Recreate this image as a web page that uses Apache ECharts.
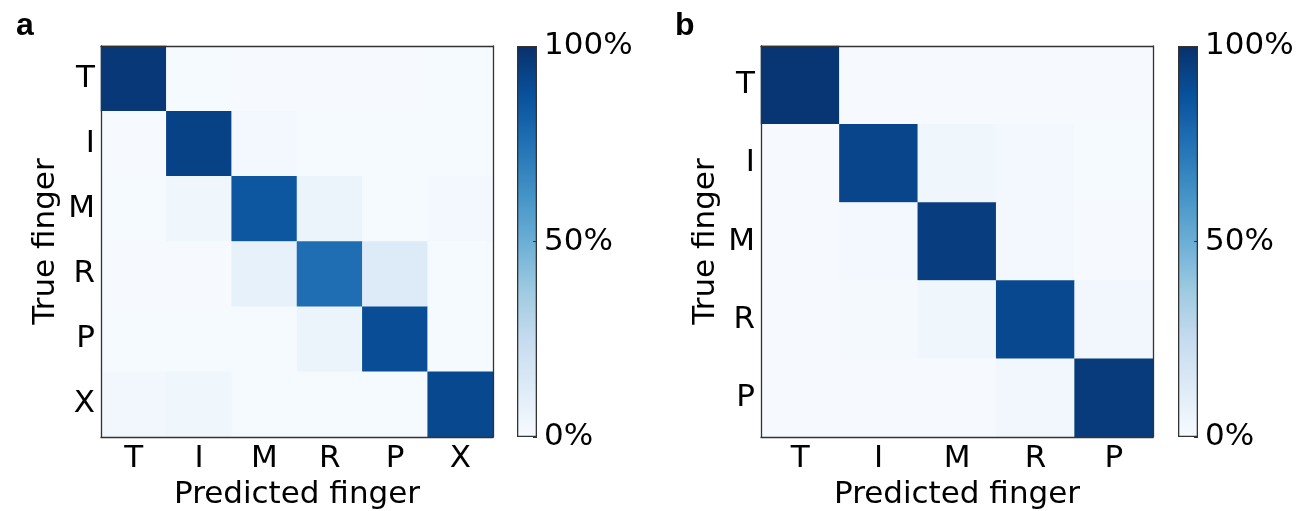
<!DOCTYPE html>
<html>
<head>
<meta charset="utf-8">
<script src="https://cdn.jsdelivr.net/npm/echarts@6/dist/echarts.min.js"></script>
<style>
  html, body { margin: 0; padding: 0; background: #fff; }
  #main { width: 1309px; height: 511px; }
</style>
</head>
<body>
<div id="main"></div>
<script>
// panel a: 6 classes, panel b: 5 classes (rows = true, cols = predicted, in %)
const fingersA = ['T', 'I', 'M', 'R', 'P', 'X'];
const fingersB = ['T', 'I', 'M', 'R', 'P'];

const matrixA = [
  [97, 1, 0.5, 0.5, 0.5, 1],
  [0.5, 93, 2, 1, 1, 1],
  [1, 4, 85, 6, 1, 2],
  [0.5, 0.5, 8, 76, 13, 1],
  [1, 1, 1, 6, 89, 1],
  [3, 4, 1, 1, 1, 91]
];

const matrixB = [
  [98, 0.5, 0.5, 0.5, 0.5],
  [0.5, 92, 4, 2, 1],
  [0.5, 2, 95, 2, 0.5],
  [0.5, 1.5, 4, 91, 3],
  [0.5, 0.5, 0.5, 3, 96]
];

const colorTicks = [0, 50, 100];

// matplotlib "Blues"
const blues = ['#f7fbff', '#deebf7', '#c6dbef', '#9ecae1', '#6baed6',
  '#4292c6', '#2171b5', '#08519c', '#08306b'];

function toCells (m) {
  const out = [];
  m.forEach((row, i) => row.forEach((v, j) => out.push([j, i, v])));
  return out;
}

const FONT = 'DejaVu Sans';
const txt = { color: '#000', fontFamily: FONT, fontSize: 31 };

const gradient = new echarts.graphic.LinearGradient(0, 1, 0, 0,
  blues.map((c, i) => ({ offset: i / (blues.length - 1), color: c })));

const frameLine = { show: true, lineStyle: { color: '#333', width: 1.3 } };

function heatX (data, gridIndex) {
  return {
    type: 'category', data: data, gridIndex: gridIndex, position: 'bottom',
    axisLine: frameLine, axisTick: { show: false }, splitLine: { show: false },
    axisLabel: Object.assign({ margin: 6 }, txt),
    name: 'Predicted finger', nameLocation: 'middle', nameGap: 42,
    nameTextStyle: txt, z: 10
  };
}
function heatY (data, gridIndex) {
  return {
    type: 'category', data: data, gridIndex: gridIndex, inverse: true,
    axisLine: frameLine, axisTick: { show: false }, splitLine: { show: false },
    axisLabel: Object.assign({ margin: 6 }, txt),
    name: 'True finger', nameLocation: 'middle', nameGap: 40,
    nameTextStyle: txt, z: 10
  };
}
function frameAxis (data, gridIndex, pos) {
  return {
    type: 'category', data: data, gridIndex: gridIndex, position: pos,
    axisLine: frameLine, axisTick: { show: false }, axisLabel: { show: false },
    splitLine: { show: false }, z: 10
  };
}
function barX (gridIndex) {
  return {
    type: 'category', data: ['c'], gridIndex: gridIndex,
    axisLine: { show: false }, axisTick: { show: false }, axisLabel: { show: false }
  };
}
function barY (gridIndex) {
  return {
    type: 'value', gridIndex: gridIndex, position: 'right',
    min: colorTicks[0], max: colorTicks[colorTicks.length - 1], interval: 50,
    axisLine: { show: false }, splitLine: { show: false },
    axisTick: { show: true, inside: true, length: 4, lineStyle: { color: '#333' } },
    axisLabel: Object.assign({ margin: 7, formatter: '{value}%' }, txt),
    z: 10
  };
}

const chart = echarts.init(document.getElementById('main'));
chart.setOption({
  animation: false,
  backgroundColor: '#fff',
  title: [
    { text: 'a', left: 11, top: 5, textStyle: { fontFamily: 'Liberation Sans', fontWeight: 'bold', fontSize: 32, color: '#000' } },
    { text: 'b', left: 670, top: 5, textStyle: { fontFamily: 'Liberation Sans', fontWeight: 'bold', fontSize: 32, color: '#000' } }
  ],
  grid: [
    { left: 101, top: 46, width: 392, height: 391, outerBoundsMode: 'none' },
    { left: 517, top: 46, width: 20, height: 391, outerBoundsMode: 'none' },
    { left: 761, top: 46, width: 392, height: 391, outerBoundsMode: 'none' },
    { left: 1178, top: 46, width: 20, height: 391, outerBoundsMode: 'none' }
  ],
  xAxis: [
    heatX(fingersA, 0), barX(1), heatX(fingersB, 2), barX(3),
    frameAxis(fingersA, 0, 'top'), frameAxis(fingersB, 2, 'top')
  ],
  yAxis: [
    heatY(fingersA, 0), barY(1), heatY(fingersB, 2), barY(3),
    Object.assign(frameAxis(fingersA, 0, 'right'), { inverse: true }),
    Object.assign(frameAxis(fingersB, 2, 'right'), { inverse: true })
  ],
  visualMap: {
    show: false, type: 'continuous', min: 0, max: 100,
    seriesIndex: [0, 1], inRange: { color: blues }
  },
  series: [
    { type: 'heatmap', xAxisIndex: 0, yAxisIndex: 0, data: toCells(matrixA) },
    { type: 'heatmap', xAxisIndex: 2, yAxisIndex: 2, data: toCells(matrixB) },
    {
      type: 'bar', xAxisIndex: 1, yAxisIndex: 1, data: [colorTicks[2]], barWidth: '100%',
      itemStyle: { color: gradient, borderColor: '#333', borderWidth: 1.3 }, silent: true
    },
    {
      type: 'bar', xAxisIndex: 3, yAxisIndex: 3, data: [colorTicks[2]], barWidth: '100%',
      itemStyle: { color: gradient, borderColor: '#333', borderWidth: 1.3 }, silent: true
    }
  ]
});
</script>
</body>
</html>
